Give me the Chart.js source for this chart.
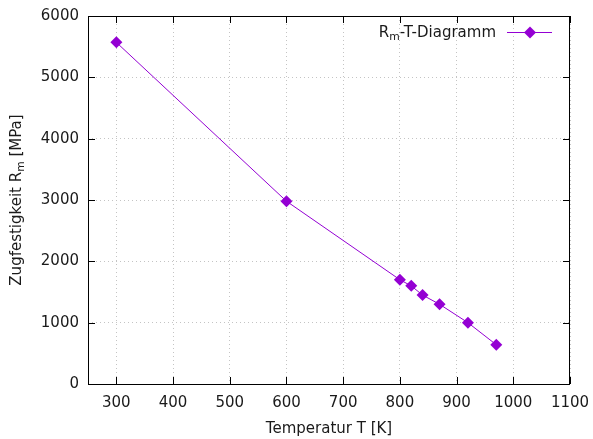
<!DOCTYPE html>
<html lang="de">
<head>
<meta charset="UTF-8">
<title>Rm-T-Diagramm</title>
<script src="https://cdn.jsdelivr.net/npm/chart.js"></script>
<style>
    body { margin: 0; background: #fff; }
</style>
</head>
<body>
<canvas id="rmChart" width="593" height="439"></canvas>
<script>
// Messwerte: Temperatur [K] und Zugfestigkeit Rm [MPa]
const temperatur = [300, 600, 800, 820, 840, 870, 920, 970];
const festigkeit = [5570, 2980, 1700, 1600, 1450, 1300, 1000, 640];

const xTicks = [300, 400, 500, 600, 700, 800, 900, 1000, 1100];
const yTicks = [0, 1000, 2000, 3000, 4000, 5000, 6000];

const FARBE = '#9400d3';
const SCHRIFT = 'DejaVu Sans';
const TEXTFARBE = '#1a1a1a';
const GROESSE = 15;

// Text mit tiefgestelltem Teil zeichnen; teile = [[text, tief], ...]
function textMitIndex(ctx, teile, size) {
    let breite = 0;
    teile.forEach(([t, tief]) => {
        ctx.font = (tief ? size * 0.72 : size) + 'px "' + SCHRIFT + '"';
        breite += ctx.measureText(t).width;
    });
    return {
        breite,
        zeichne(x, y) {
            let px = x;
            teile.forEach(([t, tief]) => {
                ctx.font = (tief ? size * 0.72 : size) + 'px "' + SCHRIFT + '"';
                ctx.fillText(t, px, tief ? y + size * 0.28 : y);
                px += ctx.measureText(t).width;
            });
        }
    };
}

// Rahmen mit Innen-Ticks (auch oben/rechts gespiegelt), Achsentitel und Legende
const rahmenPlugin = {
    id: 'rahmen',
    afterDraw(chart) {
        const { ctx, chartArea: a, scales } = chart;
        const len = 7;
        ctx.save();
        ctx.strokeStyle = '#000';
        ctx.lineWidth = 1;
        ctx.strokeRect(a.left + 0.5, a.top + 0.5, a.right - a.left - 1, a.bottom - a.top);
        ctx.beginPath();
        xTicks.forEach(v => {
            const x = Math.round(scales.x.getPixelForValue(v)) + 0.5;
            ctx.moveTo(x, a.bottom); ctx.lineTo(x, a.bottom - len);
            ctx.moveTo(x, a.top); ctx.lineTo(x, a.top + len);
        });
        yTicks.forEach(v => {
            const y = Math.round(scales.y.getPixelForValue(v)) + 0.5;
            ctx.moveTo(a.left, y); ctx.lineTo(a.left + len, y);
            ctx.moveTo(a.right, y); ctx.lineTo(a.right - len, y);
        });
        ctx.stroke();

        ctx.fillStyle = TEXTFARBE;
        ctx.textBaseline = 'middle';
        ctx.textAlign = 'left';

        // x-Achsentitel
        const xt = textMitIndex(ctx, [['Temperatur T [K]', false]], GROESSE);
        xt.zeichne((a.left + a.right) / 2 - xt.breite / 2, 429);

        // y-Achsentitel, gedreht
        const yt = textMitIndex(ctx, [['Zugfestigkeit R', false], ['m', true], [' [MPa]', false]], GROESSE);
        ctx.save();
        ctx.translate(17, (a.top + a.bottom) / 2);
        ctx.rotate(-Math.PI / 2);
        yt.zeichne(-yt.breite / 2, 0);
        ctx.restore();

        // Legende
        const lt = textMitIndex(ctx, [['R', false], ['m', true], ['-T-Diagramm', false]], GROESSE);
        lt.zeichne(496 - lt.breite, 33);
        ctx.strokeStyle = FARBE;
        ctx.beginPath();
        ctx.moveTo(507, 32.5); ctx.lineTo(552, 32.5);
        ctx.stroke();
        ctx.fillStyle = FARBE;
        ctx.beginPath();
        ctx.moveTo(530, 26.5); ctx.lineTo(536, 32.5); ctx.lineTo(530, 38.5); ctx.lineTo(524, 32.5);
        ctx.closePath();
        ctx.fill();
        ctx.restore();
    }
};

const achsenGrid = {
    color: '#c4c4c4',
    lineWidth: 1,
    drawTicks: false
};

new Chart(document.getElementById('rmChart'), {
    type: 'line',
    data: {
        datasets: [{
            label: 'Rm-T-Diagramm',
            data: temperatur.map((t, i) => ({ x: t, y: festigkeit[i] })),
            borderColor: FARBE,
            backgroundColor: FARBE,
            borderWidth: 1,
            pointStyle: 'rectRot',
            pointRadius: 6,
            pointBorderWidth: 0,
            fill: false,
            tension: 0
        }]
    },
    options: {
        responsive: false,
        animation: false,
        layout: { padding: { top: 16, right: 23, left: 0, bottom: 0 } },
        plugins: { legend: { display: false }, tooltip: { enabled: false } },
        scales: {
            x: {
                type: 'linear',
                min: 250,
                max: 1100,
                afterBuildTicks: s => { s.ticks = xTicks.map(v => ({ value: v })); },
                afterFit: s => { s.height = 55; s.paddingLeft = 0; s.paddingRight = 0; },
                grid: achsenGrid,
                border: { display: false, dash: [1, 3] },
                ticks: {
                    color: TEXTFARBE,
                    padding: 10,
                    maxRotation: 0,
                    callback: v => String(v),
                    font: { family: SCHRIFT, size: GROESSE }
                }
            },
            y: {
                type: 'linear',
                min: 0,
                max: 6000,
                afterBuildTicks: s => { s.ticks = yTicks.map(v => ({ value: v })); },
                afterFit: s => { s.width = 88; s.paddingTop = 0; s.paddingBottom = 0; },
                grid: achsenGrid,
                border: { display: false, dash: [1, 3] },
                ticks: {
                    color: TEXTFARBE,
                    padding: 9,
                    callback: v => String(v),
                    font: { family: SCHRIFT, size: GROESSE }
                }
            }
        }
    },
    plugins: [rahmenPlugin]
});
</script>
</body>
</html>
